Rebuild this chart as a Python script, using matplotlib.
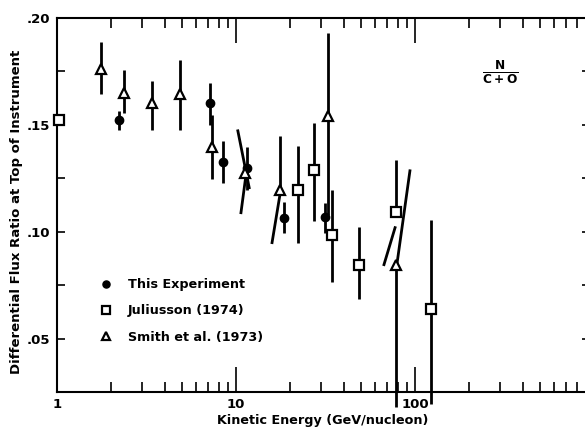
import numpy as np
import matplotlib
matplotlib.use("Agg")
import matplotlib.pyplot as plt
import matplotlib.transforms as mtransforms
from matplotlib.ticker import FixedLocator, LogLocator, NullFormatter

plt.rcParams['font.family'] = ['DejaVu Sans']
plt.rcParams['font.weight'] = 'bold'
plt.rcParams['mathtext.fontset'] = 'dejavusans'

nan = np.nan

# 本实验 (实心圆)
this_E = [2.22, 7.16, 8.46, 11.5, 18.5, 31.4]
this_v = [0.1523, 0.1603, 0.1327, 0.130, 0.1065, 0.107]
this_hi = [0.1565, 0.1696, 0.1425, 0.1397, 0.114, 0.1135]
this_lo = [0.1477, 0.150, 0.1229, 0.1196, 0.0995, 0.0995]

# Juliusson (1974) 空心方块
jul_E = [1.02, 22.2, 27.3, 34.4, 48.7, 78.3, 122.9]
jul_v = [0.1523, 0.1196, 0.129, 0.0986, 0.0846, 0.1093, 0.064]
jul_hi = [nan, 0.1402, 0.1509, 0.1196, 0.1023, 0.1336, 0.1056]
jul_lo = [nan, 0.0949, 0.1051, 0.0766, 0.0687, nan, 0.0195]

# Smith et al. (1973) 空心三角
smith_E = [1.76, 2.37, 3.40, 4.86, 7.35, 11.2, 17.6, 32.7, 78.3]
smith_v = [0.176, 0.165, 0.160, 0.1645, 0.1397, 0.1276, 0.1196, 0.1542, 0.0846]
smith_hi = [0.189, 0.1757, 0.1706, 0.1804, 0.1547, nan, 0.1449, 0.193, nan]
smith_lo = [0.1645, 0.1556, 0.1477, 0.1477, 0.1248, nan, nan, 0.108, 0.018]

# 斜着画的误差棒 (起点E, 起点值, 终点E, 终点值)
slant_E0 = [10.24, 10.66, 17.6, 77.4, 93.7]
slant_v0 = [0.1472, 0.1089, 0.1173, 0.1019, 0.1285]
slant_E1 = [11.85, 11.37, 15.9, 67.1, 79.2]
slant_v1 = [0.1206, 0.1266, 0.0949, 0.0846, 0.0846]

y_ticks = [0.05, 0.10, 0.15, 0.20]
y_labels = ['.05', '.10', '.15', '.20']
x_ticks = [1, 10, 100]
x_labels = ['1', '10', '100']

fig = plt.figure(figsize=(5.85, 4.32), dpi=100)
ax = fig.add_axes([57 / 585, 1 - 392 / 432, 533 / 585, 374 / 432])
ax.set_xscale('log')
ax.set_xlim(1, 950)
ax.set_ylim(0.025, 0.20)

lw = 2.0

# 竖直误差棒
for E, v, lo, hi in [(this_E, this_v, this_lo, this_hi),
                     (jul_E, jul_v, jul_lo, jul_hi),
                     (smith_E, smith_v, smith_lo, smith_hi)]:
    E, v, lo, hi = map(np.array, (E, v, lo, hi))
    m = np.isfinite(hi)
    ax.vlines(E[m], v[m], hi[m], color='black', lw=lw, clip_on=False, zorder=2)
    m = np.isfinite(lo)
    ax.vlines(E[m], lo[m], v[m], color='black', lw=lw, clip_on=False, zorder=2)

for e0, v0, e1, v1 in zip(slant_E0, slant_v0, slant_E1, slant_v1):
    ax.plot([e0, e1], [v0, v1], color='black', lw=lw, zorder=2)

ax.plot(this_E, this_v, 'o', color='black', ms=6, ls='none', zorder=4,
        label='This Experiment')
ax.plot(jul_E, jul_v, 's', mfc='white', mec='black', mew=1.6, ms=6.5, ls='none',
        zorder=4, clip_on=False, label='Juliusson (1974)')
ax.plot(smith_E, smith_v, '^', mfc='white', mec='black', mew=1.6, ms=7.5, ls='none',
        zorder=4, label='Smith et al. (1973)')

ax.legend(loc='upper left', bbox_to_anchor=(100 / 585, 1 - 278 / 432),
          bbox_transform=fig.transFigure, frameon=False, fontsize=9.2,
          handlelength=1.0, handletextpad=1.2, borderpad=0, borderaxespad=0,
          labelspacing=1.05, markerscale=0.85)

ax.text((500 - 57) / 533, (392 - 72) / 374, r'$\mathbf{\frac{N}{C+O}}$',
        transform=ax.transAxes, fontsize=12.5, ha='center', va='center')

ax.yaxis.set_major_locator(FixedLocator(y_ticks))
ax.set_yticklabels(y_labels, fontsize=9.5, fontweight='bold')
ax.yaxis.set_minor_locator(FixedLocator([0.075, 0.125, 0.175]))
ax.xaxis.set_major_locator(FixedLocator(x_ticks))
ax.set_xticklabels(x_labels, fontsize=9.5, fontweight='bold')
ax.xaxis.set_minor_locator(LogLocator(base=10, subs=np.arange(2, 10), numticks=20))
ax.xaxis.set_minor_formatter(NullFormatter())

# 原图中 10 和 100 的标签略微偏左
shift = mtransforms.ScaledTranslation(-5 / 100, 0, fig.dpi_scale_trans)
for lab in ax.get_xticklabels()[1:]:
    lab.set_transform(lab.get_transform() + shift)

ax.tick_params(axis='x', which='major', direction='in', length=18, width=1.2,
               top=True, pad=4)
ax.tick_params(axis='x', which='minor', direction='in', length=7, width=1.2, top=True)
ax.tick_params(axis='y', which='both', direction='in', length=6, width=1.2,
               right=True, pad=5)

for s in ax.spines.values():
    s.set_linewidth(1.5)

ax.set_xlabel('Kinetic Energy (GeV/nucleon)', fontsize=9.2, fontweight='bold')
ax.set_ylabel('Differential Flux Ratio at Top of Instrument', fontsize=9.5,
              fontweight='bold')
ax.xaxis.set_label_coords((323 - 57) / 533, -22 / 374)
ax.yaxis.set_label_coords(-34 / 533, (392 - 212) / 374)

fig.savefig('out.png', dpi=100)
